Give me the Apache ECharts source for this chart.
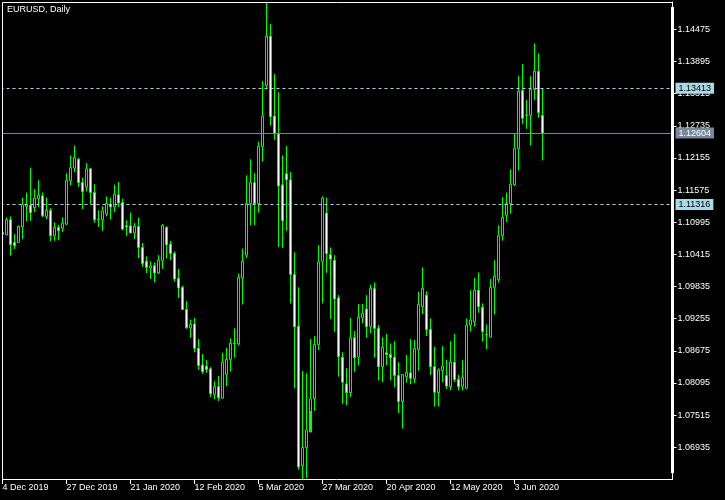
<!DOCTYPE html>
<html><head><meta charset="utf-8">
<script src="https://cdn.jsdelivr.net/npm/echarts@6/dist/echarts.min.js"></script>
<style>html,body{margin:0;padding:0;background:#000;}#c{width:725px;height:500px;}</style>
</head><body><div id="c"></div>
<script>
const dateLabels = ['4 Dec 2019','27 Dec 2019','21 Jan 2020','12 Feb 2020','5 Mar 2020','27 Mar 2020','20 Apr 2020','12 May 2020','3 Jun 2020'];
const priceTicks = [1.06935,1.07515,1.08095,1.08675,1.09255,1.09835,1.10415,1.10995,1.11575,1.12155,1.12735,1.13315,1.13895,1.14475];
const levelLines = [1.13413, 1.11316];
const bidPrice = 1.12604;

const opens = [
1.1078,1.1077,1.1104,1.1063,1.1063,1.1091,1.1128,1.1130,1.1126,1.1142,
1.1147,1.1110,1.1121,1.1075,1.1090,1.1089,1.1096,1.1174,1.1197,1.1213,
1.1171,1.1163,1.1196,1.1153,1.1104,1.1104,1.1114,1.1132,1.1127,1.1149,
1.1135,1.1093,1.1093,1.1080,1.1092,1.1054,1.1029,1.1017,1.1021,1.1008,
1.1030,1.1090,1.1060,1.1043,1.0998,1.0982,1.0942,1.0909,1.0916,1.0872,
1.0842,1.0840,1.0835,1.0789,1.0803,1.0782,1.0825,1.0852,1.0881,1.0880,
1.0999,1.1040,1.1133,1.1171,1.1133,1.1236,1.1346,1.1435,1.1291,1.1259,
1.1167,1.1187,1.1176,1.1005,1.0912,1.0660,1.0693,1.0721,1.0781,1.0879,
1.1029,1.1116,1.1041,1.1031,1.0963,1.0856,1.0808,1.0792,1.0891,1.0856,
1.0927,1.0943,1.0911,1.0980,1.0908,1.0839,1.0864,1.0861,1.0856,1.0823,
1.0776,1.0821,1.0828,1.0817,1.0870,1.0947,1.0968,1.0906,1.0839,1.0792,
1.0832,1.0823,1.0803,1.0847,1.0816,1.0803,1.0800,1.0914,1.0920,1.0977,
1.0946,1.0897,1.0892,1.0982,1.0996,1.1075,1.1112,1.1133,1.1167,1.1232,
1.1337,1.1292,1.1292,1.1339,1.1372,1.1292];
const closes = [
1.1081,1.1104,1.1059,1.1057,1.1092,1.1131,1.1131,1.1117,1.1143,1.1148,
1.1111,1.1121,1.1075,1.1090,1.1084,1.1098,1.1175,1.1198,1.1216,1.1171,
1.1155,1.1196,1.1153,1.1104,1.1105,1.1120,1.1133,1.1127,1.1150,1.1134,
1.1087,1.1091,1.1080,1.1092,1.1054,1.1025,1.1018,1.1021,1.1008,1.1031,
1.1094,1.1059,1.1043,1.0997,1.0981,1.0942,1.0909,1.0915,1.0872,1.0841,
1.0830,1.0834,1.0790,1.0803,1.0783,1.0847,1.0852,1.0881,1.0880,1.1000,
1.1029,1.1133,1.1171,1.1133,1.1236,1.1291,1.1435,1.1290,1.1259,1.1165,
1.1102,1.1176,1.1005,1.0911,1.0658,1.0693,1.0725,1.0781,1.0879,1.1028,
1.1143,1.1043,1.1033,1.0961,1.0857,1.0811,1.0792,1.0891,1.0855,1.0928,
1.0935,1.0911,1.0980,1.0908,1.0839,1.0874,1.0861,1.0855,1.0823,1.0776,
1.0825,1.0829,1.0818,1.0872,1.0951,1.0980,1.0906,1.0839,1.0793,1.0833,
1.0840,1.0804,1.0847,1.0816,1.0803,1.0820,1.0914,1.0923,1.0977,1.0947,
1.0902,1.0896,1.0982,1.1002,1.1075,1.1108,1.1133,1.1168,1.1233,1.1336,
1.1287,1.1293,1.1339,1.1372,1.1297,1.12604];
const lows = [
1.1074,1.1076,1.1039,1.1051,1.1062,1.1069,1.1101,1.1102,1.1118,1.1127,
1.1109,1.1105,1.1065,1.1066,1.1067,1.1082,1.1094,1.1166,1.1190,1.1163,
1.1123,1.1155,1.1132,1.1099,1.1091,1.1084,1.1110,1.1104,1.1118,1.1127,
1.1085,1.1075,1.1080,1.1069,1.1035,1.1019,1.1008,1.0997,1.0991,1.1006,
1.1015,1.1034,1.1031,1.0992,1.0963,1.0941,1.0907,1.0891,1.0865,1.0833,
1.0826,1.0828,1.0784,1.0780,1.0777,1.0782,1.0804,1.0830,1.0855,1.0877,
1.0951,1.1035,1.1094,1.1094,1.1117,1.1209,1.1339,1.1274,1.1248,1.1055,
1.1053,1.1084,1.0953,1.0800,1.0653,1.0636,1.0638,1.0759,1.0759,1.0869,
1.0953,1.1008,1.0925,1.0902,1.0821,1.0772,1.0769,1.0784,1.0830,1.0841,
1.0917,1.0891,1.0899,1.0855,1.0814,1.0811,1.0841,1.0814,1.0802,1.0755,
1.0727,1.0810,1.0807,1.0809,1.0832,1.0934,1.0894,1.0824,1.0767,1.0767,
1.0811,1.0799,1.0796,1.0811,1.0796,1.0796,1.0798,1.0902,1.0911,1.0936,
1.0884,1.0870,1.0892,1.0933,1.0991,1.1066,1.1100,1.1115,1.1165,1.1193,
1.1277,1.1268,1.1238,1.1320,1.1288,1.1211];
const highs = [
1.1083,1.1108,1.1110,1.1078,1.1094,1.1144,1.1153,1.1198,1.1159,1.1175,
1.1153,1.1144,1.1125,1.1099,1.1095,1.1108,1.1188,1.1220,1.1238,1.1216,
1.1180,1.1206,1.1196,1.1168,1.1121,1.1128,1.1146,1.1144,1.1167,1.1172,
1.1142,1.1103,1.1117,1.1098,1.1108,1.1062,1.1038,1.1029,1.1027,1.1040,
1.1096,1.1092,1.1066,1.1047,1.1015,1.0985,1.0957,1.0924,1.0927,1.0889,
1.0862,1.0851,1.0838,1.0813,1.0822,1.0864,1.0873,1.0890,1.0908,1.1007,
1.1052,1.1184,1.1213,1.1188,1.1245,1.1354,1.1495,1.1457,1.1367,1.1334,
1.1220,1.1237,1.1190,1.1045,1.0982,1.0831,1.0827,1.0889,1.0894,1.1058,
1.1146,1.1144,1.1054,1.1040,1.0968,1.0865,1.0836,1.0927,1.0903,1.0952,
1.0952,1.0968,1.0987,1.0991,1.0914,1.0892,1.0898,1.0881,1.0885,1.0847,
1.0825,1.0860,1.0889,1.0887,1.0974,1.1018,1.0975,1.0926,1.0875,1.0836,
1.0876,1.0851,1.0885,1.0898,1.0824,1.0851,1.0926,1.0977,1.0999,1.1009,
1.0953,1.0915,1.0997,1.1031,1.1094,1.1145,1.1153,1.1195,1.1260,1.1363,
1.1385,1.1320,1.1363,1.1422,1.1404,1.1340];

const barSlots = 168;      // visible bar slots incl. right shift
const labelEvery = 16;
const axisMin = 1.06363, axisMax = 1.14968;

const cats = Array.from({length: barSlots}, (_, i) => String(i));
const ohlc = opens.map((o, i) => [o, closes[i], lows[i], highs[i]]);
const FONT = '"Liberation Sans", Arial, sans-serif';
const showTick = (i) => i % labelEvery === 0 && (i / labelEvery) < dateLabels.length;

const tagLabel = (bg, fg) => ({
  show: true, position: 'end', distance: 3,
  formatter: p => Number(p.value).toFixed(5),
  backgroundColor: bg, color: fg, fontSize: 9, fontFamily: FONT,
  padding: [1, 3, 1, 3], lineHeight: 9
});

const chart = echarts.init(document.getElementById('c'));
chart.setOption({
  backgroundColor: '#000',
  animation: false,
  title: { text: 'EURUSD, Daily', left: 7, top: 5, padding: 0,
    textStyle: { color: '#fff', fontSize: 9, fontWeight: 'normal', fontFamily: FONT } },
  grid: { left: 0.5, width: 672, top: 2, bottom: 21, containLabel: false, outerBoundsMode: 'none' },
  xAxis: {
    type: 'category', data: cats, boundaryGap: true,
    axisLine: { show: true, lineStyle: { color: '#fff', width: 1 } },
    axisTick: { show: true, alignWithLabel: true, interval: showTick, length: 5, lineStyle: { color: '#fff' } },
    axisLabel: { interval: showTick, formatter: (v, i) => dateLabels[i / labelEvery] || '',
      align: 'left', color: '#fff', fontSize: 9, fontFamily: FONT, margin: 4, hideOverlap: false },
    splitLine: { show: false }
  },
  yAxis: {
    type: 'value', position: 'right', min: axisMin, max: axisMax,
    axisLine: { show: true, onZero: false, lineStyle: { color: '#fff', width: 1 } },
    axisTick: { show: true, customValues: priceTicks, length: 4, lineStyle: { color: '#fff' } },
    axisLabel: { customValues: priceTicks, formatter: v => v.toFixed(5),
      color: '#fff', fontSize: 9, fontFamily: FONT, margin: 5 },
    splitLine: { show: false }
  },
  series: [{
    type: 'candlestick', data: ohlc, barWidth: 2, clip: true,
    itemStyle: { color: '#000', color0: '#fff', borderColor: '#00ff00', borderColor0: '#00ff00',
      borderColorDoji: '#00ff00', borderWidth: 1 },
    markLine: {
      silent: true, symbol: 'none', animation: false, precision: 5,
      data: [
        { yAxis: levelLines[0], lineStyle: { color: '#add8e6', type: [3, 3], width: 1 }, label: tagLabel('#add8e6', '#000') },
        { yAxis: levelLines[1], lineStyle: { color: '#add8e6', type: [3, 3], width: 1 }, label: tagLabel('#add8e6', '#000') },
        { yAxis: bidPrice, lineStyle: { color: '#778899', type: 'solid', width: 1 }, label: tagLabel('#778899', '#fff') }
      ]
    }
  }],
  graphic: [
    { type: 'rect', shape: { x: 0, y: 0, width: 2, height: 480 }, style: { fill: '#000' }, z: 100 },
    { type: 'line', shape: { x1: 2.5, y1: 2.5, x2: 672.5, y2: 2.5 }, style: { stroke: '#fff', lineWidth: 1 }, z: 101 },
    { type: 'line', shape: { x1: 2.5, y1: 2.5, x2: 2.5, y2: 479.5 }, style: { stroke: '#fff', lineWidth: 1 }, z: 101 },
    { type: 'rect', shape: { x: 671, y: 7, width: 3, height: 466 }, style: { fill: '#fff' }, z: 101 }
  ]
});
</script></body></html>
